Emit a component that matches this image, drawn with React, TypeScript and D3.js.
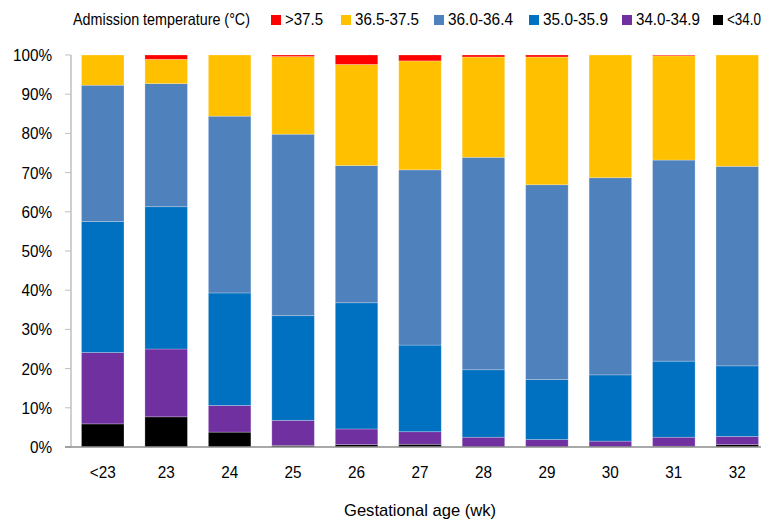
import React, { useEffect, useRef } from 'react';
import * as d3 from 'd3';

const ages = ['<23', '23', '24', '25', '26', '27', '28', '29', '30', '31', '32'];
const tempBands = ['<34.0', '34.0-34.9', '35.0-35.9', '36.0-36.4', '36.5-37.5', '>37.5'];
const bandColors = ['#000000', '#7030A0', '#0070C0', '#4F81BD', '#FFC000', '#FF0000'];

// share (%) of each temperature band per gestational age, bottom to top
const below34 = [5.9, 7.7, 3.8, 0.4, 0.6, 0.7, 0, 0, 0, 0.2, 0.6];
const t34to349 = [18.2, 17.3, 6.8, 6.4, 4.0, 3.2, 2.5, 1.9, 1.5, 2.3, 2.1];
const t35to359 = [33.4, 36.3, 28.7, 26.7, 32.2, 22.1, 17.2, 15.3, 16.9, 19.4, 18.0];
const t36to364 = [34.8, 31.4, 45.1, 46.3, 35.0, 44.7, 54.2, 49.7, 50.3, 51.3, 50.9];
const t365to375 = [7.7, 6.2, 15.6, 19.8, 25.8, 27.8, 25.6, 32.6, 31.3, 26.6, 28.4];
const above375 = [0, 1.1, 0, 0.4, 2.4, 1.5, 0.5, 0.5, 0, 0.2, 0];

const yTicks = [0, 10, 20, 30, 40, 50, 60, 70, 80, 90, 100];

// legend order as printed, left to right
const legendOrder = [5, 4, 3, 2, 1, 0];
const legendTextWidths = [38, 64, 65, 65, 64, 34];

const FONT = '"Liberation Sans", Arial, sans-serif';
const SQUEEZE = 0.9;

export default function App() {
    const svgRef = useRef<SVGSVGElement | null>(null);
    const width = 769;
    const height = 521;

    useEffect(() => {
        const svg = d3.select(svgRef.current);
        svg.selectAll('*').remove();

        const margin = { left: 71, right: 0, top: 55, bottom: 74 };
        const series = [below34, t34to349, t35to359, t36to364, t365to375, above375];
        const rows = ages.map((age, i) => {
            const row: any = { age };
            tempBands.forEach((b, k) => { row[b] = series[k][i]; });
            return row;
        });

        const x = d3.scaleBand()
            .domain(ages)
            .range([margin.left, width - margin.right])
            .paddingInner(0.33)
            .paddingOuter(0.165);

        const y = d3.scaleLinear()
            .domain([0, 100])
            .range([height - margin.bottom, margin.top]);

        const stacked = d3.stack().keys(tempBands)(rows);

        // narrow-looking text: Liberation Sans squeezed horizontally
        const squeezed = (g, tx, ty, txt, anchor = 'start', size = 17) =>
            g.append('text')
                .attr('transform', `translate(${tx},${ty}) scale(${SQUEEZE},1)`)
                .attr('dy', '0.35em')
                .attr('text-anchor', anchor)
                .style('font-family', FONT)
                .style('font-size', `${size}px`)
                .attr('fill', '#000')
                .text(txt);

        // bars
        svg.append('g')
            .selectAll('g')
            .data(stacked)
            .enter().append('g')
            .attr('fill', (d, i) => bandColors[i])
            .selectAll('rect')
            .data(d => d.filter(s => s[1] - s[0] > 0))
            .enter().append('rect')
            .attr('x', (d: any) => x(d.data.age))
            .attr('y', d => y(d[1]))
            .attr('width', x.bandwidth())
            .attr('height', d => y(d[0]) - y(d[1]))
            .attr('stroke', 'rgba(255,255,255,0.3)')
            .attr('stroke-width', 0.8);

        // y axis
        const yAxis = svg.append('g');
        yAxis.append('line')
            .attr('x1', margin.left).attr('x2', margin.left)
            .attr('y1', y(100)).attr('y2', y(0))
            .attr('stroke', '#bfbfbf').attr('stroke-width', 1.5);
        yAxis.selectAll('.tick')
            .data(yTicks)
            .enter().append('line')
            .attr('x1', margin.left - 6).attr('x2', margin.left)
            .attr('y1', d => y(d)).attr('y2', d => y(d))
            .attr('stroke', '#bfbfbf').attr('stroke-width', 1);
        yTicks.forEach(t => squeezed(yAxis, 52, y(t), `${t}%`, 'end'));

        // x axis
        const xAxis = svg.append('g');
        xAxis.append('line')
            .attr('x1', 65).attr('x2', width)
            .attr('y1', y(0)).attr('y2', y(0))
            .attr('stroke', '#8c8c8c').attr('stroke-width', 1.5);
        ages.forEach(a => squeezed(xAxis, (x(a) as number) + x.bandwidth() / 2, 472, a, 'middle'));

        svg.append('text')
            .attr('x', 344)
            .attr('y', 510)
            .attr('dy', '0.35em')
            .attr('textLength', 152)
            .attr('lengthAdjust', 'spacingAndGlyphs')
            .style('font-family', FONT)
            .style('font-size', '17px')
            .text('Gestational age (wk)');

        // legend
        const legend = svg.append('g');
        legend.append('text')
            .attr('x', 73)
            .attr('y', 19)
            .attr('dy', '0.35em')
            .attr('textLength', 177)
            .attr('lengthAdjust', 'spacingAndGlyphs')
            .style('font-family', FONT)
            .style('font-size', '16.5px')
            .text('Admission temperature (\u00B0C)');

        const legendX = [271, 341, 434, 529, 622, 713];
        legendOrder.forEach((k, i) => {
            legend.append('rect')
                .attr('x', legendX[i])
                .attr('y', 15)
                .attr('width', 10)
                .attr('height', 10)
                .attr('fill', bandColors[k]);
            legend.append('text')
                .attr('x', legendX[i] + 14)
                .attr('y', 19)
                .attr('dy', '0.35em')
                .attr('textLength', legendTextWidths[i])
                .attr('lengthAdjust', 'spacingAndGlyphs')
                .style('font-family', FONT)
                .style('font-size', '16.5px')
                .text(tempBands[k]);
        });
    }, []);

    return (
        <div style={{ width, height }}>
            <svg ref={svgRef} width={width} height={height} style={{ display: 'block', marginLeft: -8, marginTop: -8 }} />
        </div>
    );
}
